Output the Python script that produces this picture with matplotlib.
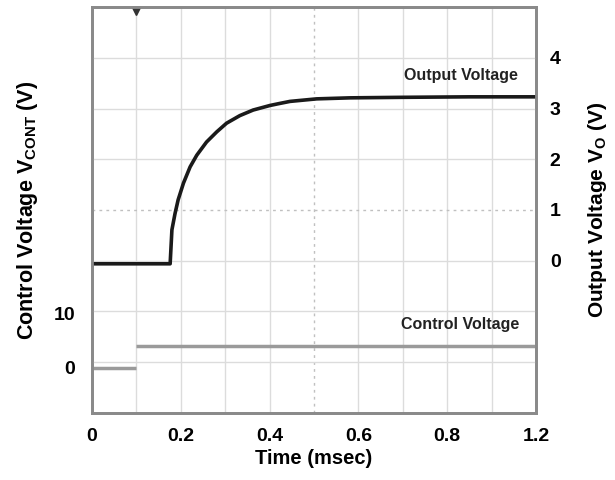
import numpy as np
import matplotlib.pyplot as plt

plt.rcParams['font.family'] = ['Liberation Sans', 'DejaVu Sans']
plt.rcParams['font.weight'] = 'bold'
plt.rcParams['mathtext.fontset'] = 'custom'
plt.rcParams['mathtext.rm'] = 'Liberation Sans:bold'
plt.rcParams['mathtext.bf'] = 'Liberation Sans:bold'

# scope trace data (time in msec, 0.1 msec/div)
ctrl_time = [0.0, 0.1, np.nan, 0.1, 1.0]
ctrl_volt = [0.0, 0.0, np.nan, 4.0, 4.0]

out_time = [0.0, 0.176, 0.180, 0.187, 0.194, 0.206, 0.221, 0.236, 0.258,
            0.281, 0.303, 0.333, 0.363, 0.401, 0.423, 0.446, 0.506, 0.581,
            0.694, 0.85, 1.0]
out_volt = [-0.06, -0.06, 0.61, 0.93, 1.20, 1.53, 1.85, 2.08, 2.34,
            2.54, 2.71, 2.86, 2.97, 3.06, 3.10, 3.14, 3.19, 3.21,
            3.22, 3.23, 3.23]

trigger_time = 0.1

x_ticks = [0.0, 0.2, 0.4, 0.6, 0.8, 1.0]
x_labels = ['0', '0.2', '0.4', '0.6', '0.8', '1.2']
left_ticks = [0, 10]
right_ticks = [0, 1, 2, 3, 4]

fig = plt.figure(figsize=(6.15, 4.8), dpi=100)
ax = fig.add_axes([0.1496, 0.1396, 0.7219, 0.8458])
ax2 = ax.twinx()

ax.set_xlim(0, 1.0)
ax.set_ylim(-8.4, 66.8)
ax2.set_ylim(-3, 5)

# scope graticule
for t in np.arange(0.1, 1.0, 0.1):
    if abs(t - 0.5) < 1e-6:
        ax.axvline(t, color='#c0c0c0', lw=1, ls=(0, (2, 3)), zorder=0)
    else:
        ax.axvline(t, color='#dcdcdc', lw=1, zorder=0)
for v in range(-2, 5):
    if v == 1:
        ax2.axhline(v, color='#c0c0c0', lw=1, ls=(0, (2, 3)), zorder=0)
    else:
        ax2.axhline(v, color='#dcdcdc', lw=1, zorder=0)

ax.plot(ctrl_time, ctrl_volt, color='#9a9a9a', lw=2.5, solid_capstyle='butt')
ax2.plot(out_time, out_volt, color='#1a1a1a', lw=2.6)
ax2.plot([trigger_time], [4.93], marker='v', color='#333333', ms=6, clip_on=False)

ax.set_xticks(x_ticks)
ax.set_xticklabels(x_labels)
ax.set_yticks(left_ticks)
ax2.set_yticks(right_ticks)
ax.tick_params(axis='x', length=0, pad=11, labelsize=14)
ax.tick_params(axis='y', length=0, pad=12, labelsize=14)
ax2.tick_params(axis='y', length=0, pad=10, labelsize=14)
for lbl in ax.get_xticklabels():
    lbl.set_x(lbl.get_position()[0])

ax.set_xlabel('Time (msec)', fontsize=14.5, fontweight='bold', labelpad=3)
ax.set_ylabel('Control Voltage V$_{\\mathregular{CONT}}$ (V)', fontsize=15.5,
              fontweight='bold')
ax.yaxis.set_label_coords(-0.117, 0.5)
ax2.set_ylabel('Output Voltage V$_{\\mathregular{O}}$ (V)', fontsize=15,
               fontweight='bold')
ax2.yaxis.set_label_coords(1.113, 0.5)

for a in (ax, ax2):
    for s in a.spines.values():
        s.set_color('#8a8a8a')
        s.set_linewidth(2)

ax2.text(0.83, 3.66, 'Output Voltage', ha='center', va='center',
         fontsize=11.5, fontweight='bold', color='#222222')
ax.text(0.83, 8.0, 'Control Voltage', ha='center', va='center',
        fontsize=11.5, fontweight='bold', color='#222222')

fig.savefig('out.png', dpi=100)
